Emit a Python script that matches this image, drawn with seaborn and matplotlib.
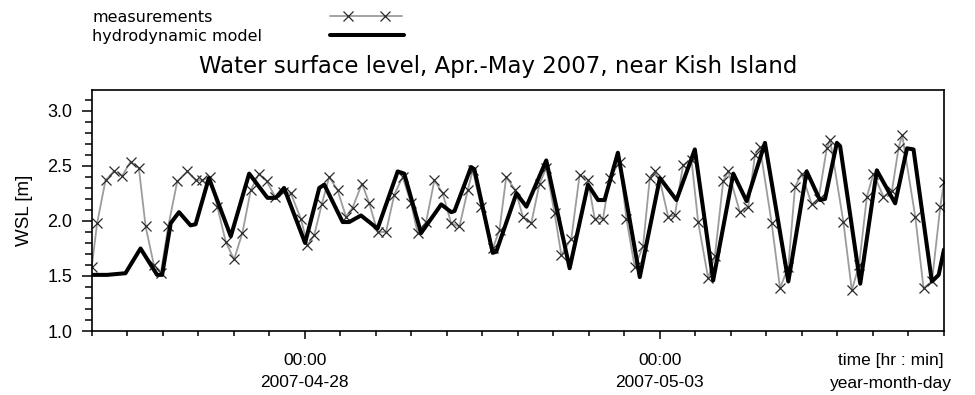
import numpy as np
import pandas as pd
import matplotlib
matplotlib.use("Agg")
import matplotlib.pyplot as plt
import matplotlib.dates as mdates
from matplotlib.lines import Line2D
from matplotlib.ticker import MultipleLocator
import seaborn as sns

# ---------------- data ----------------
start_time = "2007-04-25 00:00"
end_time = "2007-05-07 00:00"

# hydrodynamic model: hours after start, water surface level [m]
model_hours = [0, 5.2, 11.4, 16.5, 22.1, 23.8, 26.7, 29.5, 33.4, 35.1,
               39.6, 47.0, 53.2, 59.4, 62.2, 65.0, 72.1, 76.9, 78.6, 84.8,
               87.0, 91.0, 96.6, 103.4, 105.6, 111.3, 118.1, 121.5, 122.6, 128.2,
               129.3, 135.5, 136.7, 143.5, 146.9, 153.6, 161.5, 167.7, 171.1, 173.3,
               177.8, 185.2, 192.0, 197.6, 203.8, 210.0, 216.8, 221.3, 227.5, 235.4,
               241.6, 246.1, 247.8, 251.8, 252.9, 259.7, 265.3, 271.5, 275.5, 277.7,
               283.9, 286.2, 288.0]
model_wsl = [1.51, 1.51, 1.525, 1.75, 1.51, 1.51, 1.98, 2.08, 1.96, 1.97,
             2.39, 1.86, 2.43, 2.21, 2.21, 2.30, 1.80, 2.30, 2.33, 1.99,
             1.99, 2.05, 1.93, 2.45, 2.43, 1.89, 2.15, 2.08, 2.09, 2.49,
             2.47, 1.71, 1.72, 2.25, 2.13, 2.55, 1.57, 2.33, 2.19, 2.19,
             2.62, 1.49, 2.39, 2.19, 2.65, 1.46, 2.43, 2.18, 2.71, 1.45,
             2.45, 2.19, 2.20, 2.71, 2.68, 1.43, 2.46, 2.16, 2.66, 2.65,
             1.45, 1.51, 1.74]

# measurements: hours after start, water surface level [m]
meas_hours = [0.0, 1.83, 4.67, 7.48, 10.29, 13.13, 15.94, 18.21, 21.02, 23.39,
              25.86, 28.91, 32.29, 35.14, 37.37, 39.98, 42.45, 45.29, 48.10, 50.91,
              53.75, 56.56, 59.17, 61.98, 64.69, 67.29, 70.68, 72.91, 75.18, 77.72,
              80.26, 83.07, 85.91, 88.15, 91.33, 93.80, 96.61, 99.45, 102.26, 105.07,
              107.91, 110.15, 112.99, 115.80, 118.61, 121.45, 124.26, 127.07, 128.76, 131.61,
              135.54, 137.80, 140.07, 143.15, 145.69, 148.53, 151.34, 153.61, 156.42, 158.69,
              162.07, 164.88, 167.69, 169.96, 172.77, 175.04, 178.42, 180.69, 183.50, 186.31,
              188.58, 190.27, 191.97, 194.78, 197.04, 199.85, 202.69, 204.93, 208.31, 210.58,
              213.39, 215.08, 219.04, 221.85, 224.12, 225.81, 229.77, 232.58, 235.39, 237.66,
              239.92, 243.31, 245.61, 248.39, 249.50, 254.01, 256.85, 259.32, 261.93, 264.16,
              267.55, 270.39, 272.63, 273.88, 278.28, 281.09, 283.93, 286.74, 288.0]
meas_wsl = [1.58, 1.98, 2.37, 2.45, 2.41, 2.54, 2.48, 1.95, 1.60, 1.53,
            1.95, 2.36, 2.45, 2.37, 2.37, 2.40, 2.13, 1.81, 1.65, 1.89,
            2.28, 2.43, 2.36, 2.22, 2.26, 2.25, 2.02, 1.78, 1.87, 2.15,
            2.40, 2.28, 2.04, 2.12, 2.34, 2.16, 1.90, 1.90, 2.24, 2.40,
            2.16, 1.89, 1.99, 2.37, 2.25, 1.98, 1.95, 2.28, 2.46, 2.13,
            1.75, 1.92, 2.40, 2.28, 2.04, 1.98, 2.34, 2.48, 2.07, 1.69,
            1.84, 2.42, 2.37, 2.02, 2.02, 2.39, 2.54, 2.02, 1.58, 1.77,
            2.39, 2.45, 2.37, 2.04, 2.05, 2.51, 2.55, 1.99, 1.48, 1.68,
            2.36, 2.45, 2.08, 2.13, 2.60, 2.67, 1.98, 1.39, 1.58, 2.31,
            2.43, 2.15, 2.20, 2.66, 2.74, 1.99, 1.37, 1.60, 2.22, 2.43,
            2.22, 2.27, 2.66, 2.78, 2.04, 1.39, 1.45, 2.13, 2.35]

major_dates = ["2007-04-28", "2007-05-03"]
major_labels = ["00:00\n2007-04-28", "00:00\n2007-05-03"]
y_ticks = [1.0, 1.5, 2.0, 2.5, 3.0]
y_tick_labels = ["1.0", "1.5", "2.0", "2.5", "3.0"]
series_labels = ["measurements", "hydrodynamic model"]
title_text = "Water surface level, Apr.-May 2007, near Kish Island"
y_label = "WSL [m]"
x_unit_label = "time [hr : min]\nyear-month-day"

# ---------------- figure ----------------
sns.set_style("ticks")
plt.rcParams["font.family"] = ["Liberation Sans", "DejaVu Sans"]
plt.rcParams["text.color"] = "black"
plt.rcParams["axes.labelcolor"] = "black"
plt.rcParams["xtick.color"] = "black"
plt.rcParams["ytick.color"] = "black"

t0 = pd.Timestamp(start_time)
df_model = pd.DataFrame({"time": t0 + pd.to_timedelta(model_hours, unit="h"),
                         "wsl": model_wsl})
df_meas = pd.DataFrame({"time": t0 + pd.to_timedelta(meas_hours, unit="h"),
                        "wsl": meas_wsl})

W, H = 975, 395
fig = plt.figure(figsize=(W / 100, H / 100), dpi=100)
fig.patch.set_facecolor("white")
ax_l, ax_r, ax_t, ax_b = 91.7, 944, 90, 331
ax = fig.add_axes([ax_l / W, 1 - ax_b / H, (ax_r - ax_l) / W, (ax_b - ax_t) / H])

meas_color = "#9c9c9c"
sns.lineplot(data=df_meas, x="time", y="wsl", ax=ax, color=meas_color, lw=1.3,
             marker="x", markersize=6.5, markeredgecolor="#2a2a2a",
             markeredgewidth=0.9, zorder=2)
sns.lineplot(data=df_model, x="time", y="wsl", ax=ax, color="black", lw=2.9,
             zorder=3)

ax.set_xlim(pd.Timestamp(start_time), pd.Timestamp(end_time))
ax.set_ylim(1.0, 3.19)
ax.set_xlabel("")
ax.set_ylabel(y_label, fontsize=13.5, labelpad=10)

ax.set_xticks(pd.to_datetime(major_dates))
ax.set_xticklabels(major_labels, fontsize=12.5, linespacing=1.6)
ax.xaxis.set_minor_locator(mdates.HourLocator(byhour=[0, 12]))
ax.set_yticks(y_ticks)
ax.set_yticklabels(y_tick_labels, fontsize=13)
ax.yaxis.set_minor_locator(MultipleLocator(0.1))

ax.tick_params(axis="y", which="major", direction="out", length=7.5, width=1.1,
               color="black", pad=6.5)
ax.tick_params(axis="y", which="minor", direction="out", length=4.8, width=1.1,
               color="black")
ax.tick_params(axis="x", which="major", direction="out", length=6, width=1.1,
               color="black", pad=10)
ax.tick_params(axis="x", which="minor", direction="out", length=3.8, width=1.1,
               color="black")
for s in ax.spines.values():
    s.set_visible(True)
    s.set_color("black")
    s.set_linewidth(1.2)

# unit label at the right end of the time axis
fig.text(891 / W, 1 - 372 / H, x_unit_label, ha="center", va="center",
         fontsize=12.5, linespacing=1.6)

# title
fig.text(498 / W, 1 - 66 / H, title_text, ha="center", va="center",
         fontsize=16.5, family="DejaVu Sans")

# legend (labels on the left, line keys on the right)
fig.text(92 / W, 1 - 18 / H, series_labels[0], ha="left", va="center",
         fontsize=11.5, family="DejaVu Sans")
fig.text(92 / W, 1 - 37 / H, series_labels[1], ha="left", va="center",
         fontsize=11.5, family="DejaVu Sans")
key_x = np.array([330, 348, 385, 402]) / W
fig.add_artist(Line2D(key_x, [1 - 16 / H] * 4, transform=fig.transFigure,
                      color=meas_color, lw=1.3, marker="x", markersize=6.5,
                      markeredgecolor="#2a2a2a", markeredgewidth=0.9,
                      markevery=[1, 2]))
fig.add_artist(Line2D([330 / W, 404 / W], [1 - 35 / H] * 2,
                      transform=fig.transFigure, color="black", lw=2.9))

fig.savefig("out.png", dpi=100, facecolor="white")
